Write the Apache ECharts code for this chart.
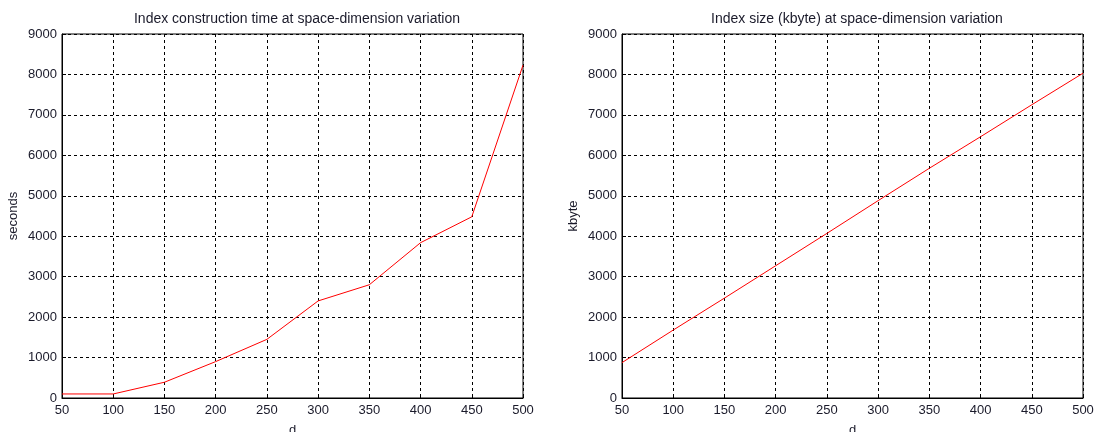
<!DOCTYPE html>
<html>
<head>
<meta charset="utf-8">
<script src="https://cdn.jsdelivr.net/npm/echarts@6/dist/echarts.min.js"></script>
<style>
html,body{margin:0;padding:0;background:#fff;}
#c{width:1094px;height:432px;}
</style>
</head>
<body>
<div id="c"></div>
<script>
const dims = [50, 100, 150, 200, 250, 300, 350, 400, 450, 500];
const constructionSeconds = [100, 100, 390, 900, 1450, 2400, 2800, 3840, 4480, 8230];
const indexKbyte = [875, 1680, 2470, 3270, 4070, 4880, 5680, 6460, 7250, 8030];
const titles = ['Index construction time at space-dimension variation', 'Index size (kbyte) at space-dimension variation'];
const yNames = ['seconds', 'kbyte'];
const xName = 'd';

const FONT = '"Liberation Sans", Arial, sans-serif';
const TXT = '#1a1a2a';

function xAxisFor(i) {
  return {
    type: 'value', gridIndex: i, min: 50, max: 500, interval: 50,
    name: xName, nameLocation: 'middle', nameGap: 26,
    nameTextStyle: { fontFamily: FONT, fontSize: 13, color: TXT },
    axisLine: { show: true, onZero: false, lineStyle: { color: '#000', width: 1 } },
    axisTick: { show: true, inside: true, length: 4, lineStyle: { color: '#000' } },
    axisLabel: { fontFamily: FONT, fontSize: 13, color: TXT, margin: 6, formatter: v => String(v) },
    splitLine: { show: true, lineStyle: { color: '#000', type: [3, 3], width: 1 } }
  };
}
function yAxisFor(i) {
  return {
    type: 'value', gridIndex: i, min: 0, max: 9000, interval: 1000,
    name: yNames[i], nameLocation: 'middle', nameGap: 42,
    nameTextStyle: { fontFamily: FONT, fontSize: 13, color: TXT },
    axisLine: { show: true, lineStyle: { color: '#000', width: 1 } },
    axisTick: { show: true, inside: true, length: 4, lineStyle: { color: '#000' } },
    axisLabel: { fontFamily: FONT, fontSize: 13, color: TXT, margin: 5, formatter: v => String(v) },
    splitLine: { show: true, lineStyle: { color: '#000', type: [3, 3], width: 1 } }
  };
}

const chart = echarts.init(document.getElementById('c'), null, { renderer: 'canvas' });
chart.setOption({
  animation: false,
  backgroundColor: '#fff',
  title: [
    { text: titles[0], left: 292, top: 7, textAlign: 'center',
      textStyle: { fontFamily: FONT, fontSize: 14, fontWeight: 'normal', color: TXT } },
    { text: titles[1], left: 852, top: 7, textAlign: 'center',
      textStyle: { fontFamily: FONT, fontSize: 14, fontWeight: 'normal', color: TXT } }
  ],
  grid: [
    { left: 62, right: 571, top: 34, bottom: 34, outerBoundsMode: 'none', containLabel: false, show: true, borderColor: '#000', borderWidth: 1, backgroundColor: 'transparent' },
    { left: 622, right: 11, top: 34, bottom: 34, outerBoundsMode: 'none', containLabel: false, show: true, borderColor: '#000', borderWidth: 1, backgroundColor: 'transparent' }
  ],
  xAxis: [xAxisFor(0), xAxisFor(1)],
  yAxis: [yAxisFor(0), yAxisFor(1)],
  series: [
    { type: 'line', xAxisIndex: 0, yAxisIndex: 0, showSymbol: false, symbol: 'none',
      data: dims.map((d, k) => [d, constructionSeconds[k]]),
      lineStyle: { color: '#ff0000', width: 1 }, itemStyle: { color: '#ff0000' } },
    { type: 'line', xAxisIndex: 1, yAxisIndex: 1, showSymbol: false, symbol: 'none',
      data: dims.map((d, k) => [d, indexKbyte[k]]),
      lineStyle: { color: '#ff0000', width: 1 }, itemStyle: { color: '#ff0000' } }
  ]
});
</script>
</body>
</html>
